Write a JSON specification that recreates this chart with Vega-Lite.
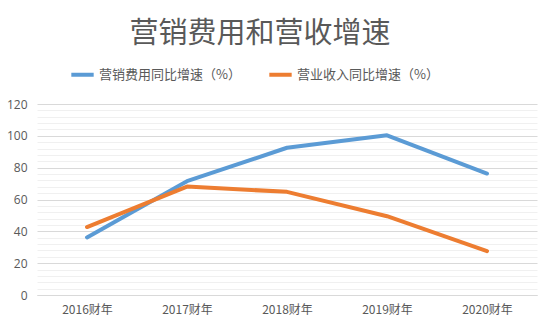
{
  "$schema": "https://vega.github.io/schema/vega-lite/v6.json",
  "width": 500,
  "height": 191,
  "autosize": "none",
  "padding": {"left": 37, "top": 104, "right": 13, "bottom": 34},
  "background": "white",
  "title": {
    "text": "营销费用和营收增速",
    "font": "Noto Sans CJK SC",
    "fontSize": 29,
    "fontWeight": "normal",
    "color": "#595959",
    "anchor": "middle",
    "dx": -27,
    "offset": 12
  },
  "data": {
    "values": [
      {"year": "2016财年", "series": "营销费用同比增速（%）", "value": 36.2},
      {"year": "2017财年", "series": "营销费用同比增速（%）", "value": 71.5},
      {"year": "2018财年", "series": "营销费用同比增速（%）", "value": 92.5},
      {"year": "2019财年", "series": "营销费用同比增速（%）", "value": 100.3},
      {"year": "2020财年", "series": "营销费用同比增速（%）", "value": 76.3},
      {"year": "2016财年", "series": "营业收入同比增速（%）", "value": 42.7},
      {"year": "2017财年", "series": "营业收入同比增速（%）", "value": 68.1},
      {"year": "2018财年", "series": "营业收入同比增速（%）", "value": 64.8},
      {"year": "2019财年", "series": "营业收入同比增速（%）", "value": 49.5},
      {"year": "2020财年", "series": "营业收入同比增速（%）", "value": 27.6}
    ]
  },
  "mark": {"type": "line", "strokeWidth": 4, "strokeCap": "round", "strokeJoin": "round"},
  "encoding": {
    "x": {
      "field": "year",
      "type": "ordinal",
      "title": null,
      "scale": {"type": "point", "padding": 0.5},
      "axis": {
        "labelAngle": 0,
        "labelFont": "Noto Sans CJK SC",
        "labelFontSize": 12,
        "labelColor": "#595959",
        "labelPadding": 9,
        "domain": true,
        "domainColor": "#d9d9d9",
        "ticks": false,
        "grid": false
      }
    },
    "y": {
      "field": "value",
      "type": "quantitative",
      "title": null,
      "scale": {"domain": [0, 120], "nice": false},
      "axis": {
        "values": [0, 4, 8, 12, 16, 20, 24, 28, 32, 36, 40, 44, 48, 52, 56, 60, 64, 68, 72, 76, 80, 84, 88, 92, 96, 100, 104, 108, 112, 116, 120],
        "labelExpr": "datum.value % 20 === 0 ? datum.label : ''",
        "labelFont": "Open Sans",
        "labelFontSize": 12,
        "labelColor": "#595959",
        "labelPadding": 10,
        "domain": false,
        "ticks": false,
        "grid": true,
        "gridColor": {"condition": {"test": "datum.value % 20 === 0", "value": "#d9d9d9"}, "value": "#f0f0f0"},
        "gridWidth": 1
      }
    },
    "color": {
      "field": "series",
      "type": "nominal",
      "scale": {
        "domain": ["营销费用同比增速（%）", "营业收入同比增速（%）"],
        "range": ["#5B9BD5", "#ED7D31"]
      },
      "legend": {
        "title": null,
        "orient": "none",
        "direction": "horizontal",
        "legendX": 32,
        "legendY": -43,
        "symbolType": "stroke",
        "symbolStrokeWidth": 4,
        "symbolSize": 500,
        "labelFont": "Noto Sans CJK SC",
        "labelFontSize": 13,
        "labelColor": "#595959",
        "columnPadding": 20,
        "labelOffset": 3
      }
    }
  },
  "config": {"view": {"stroke": null}}
}
